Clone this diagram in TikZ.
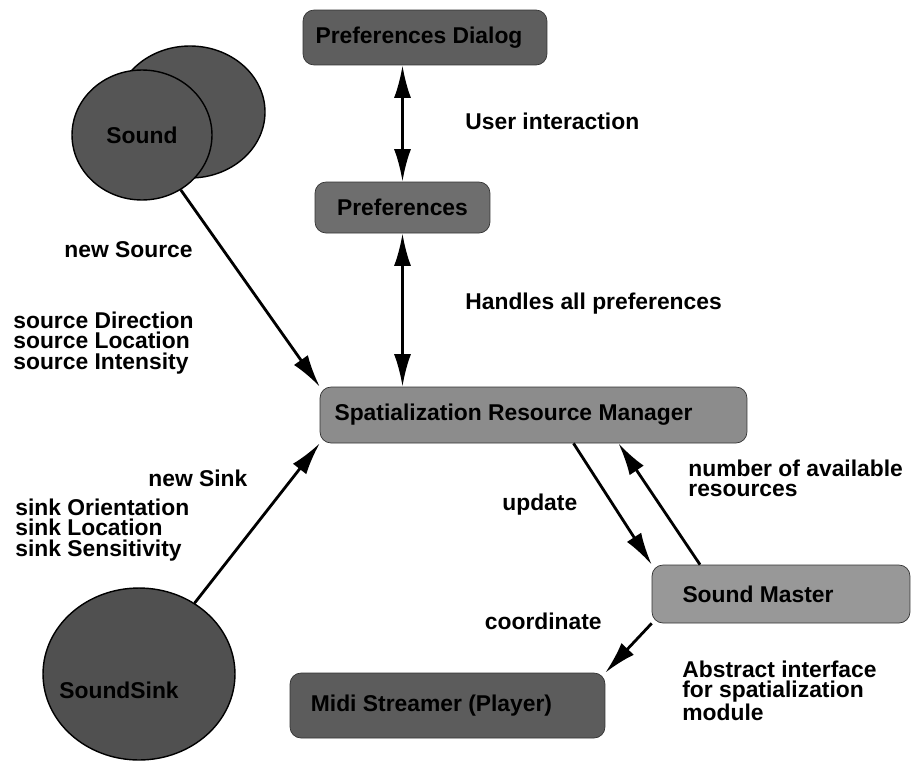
\documentclass[tikz,border=0pt]{standalone}
\usepackage{fontspec}
\setmainfont{Liberation Sans}
\usetikzlibrary{arrows.meta,shapes.geometric}
\definecolor{dlggray}{HTML}{5E5E5E}
\definecolor{prefgray}{HTML}{6E6E6E}
\definecolor{srmgray}{HTML}{8C8C8C}
\definecolor{smgray}{HTML}{989898}
\definecolor{midigray}{HTML}{5C5C5C}
\definecolor{sndgray}{HTML}{555555}
\definecolor{sinkgray}{HTML}{505050}
\tikzset{
	box/.style={draw=black!80, rounded corners=0.22cm, inner sep=0, font=\fontsize{13}{11.5}\selectfont\bfseries},
	blob/.style={ellipse, draw=black, line width=0.8pt, inner sep=0, font=\fontsize{13}{11.5}\selectfont\bfseries},
	lbl/.style={inner sep=0, align=left, font=\fontsize{13}{11.5}\selectfont\bfseries},
	arr/.style={line width=1.6pt, -{Latex[length=6.5mm,width=3.4mm]}},
	dbl/.style={line width=1.6pt, {Latex[length=6.5mm,width=3.4mm]}-{Latex[length=6.5mm,width=3.4mm]}},
}
\begin{document}
\begin{tikzpicture}[x=0.02cm, y=-0.02cm]
			\useasboundingbox (0,0) rectangle (911,764);
			\node [box, fill=dlggray, minimum width=4.88cm, minimum height=1.1cm] (dlg) at (425,37.5) {Preferences Dialog\hspace*{0.24cm}};
			\node [box, fill=prefgray, minimum width=3.5cm, minimum height=1.02cm] (pref) at (402.5,207.5) {Preferences};
			\node [box, fill=srmgray, minimum width=8.54cm, minimum height=1.12cm] (srm) at (533.5,415) {Spatialization Resource Manager\hspace*{0.8cm}};
			\node [box, fill=smgray, minimum width=5.16cm, minimum height=1.16cm] (sm) at (781,594) {Sound Master\hspace*{0.92cm}};
			\node [box, fill=midigray, minimum width=6.3cm, minimum height=1.3cm] (midi) at (447.5,705.5) {Midi Streamer (Player)\hspace*{0.64cm}};
			\fill [sndgray] (190,112) ellipse (75 and 66);
			\draw [black, line width=0.8pt] (190,112) ellipse (75 and 66);
			\node [blob, fill=sndgray, minimum width=2.8cm, minimum height=2.6cm] (snd) at (142,135) {Sound};
			\node [blob, fill=sinkgray, minimum width=3.84cm, minimum height=3.44cm] (sink) at (139,674) {};
			\node [lbl] (sinktxt) at (119,690) {SoundSink};
			\draw [dbl] (pref.north) -- (pref.north |- dlg.south);
			\draw [dbl] (pref.south) -- (pref.south |- srm.north);
			\draw [arr] (snd) -- (srm.north west);
			\draw [arr] (sink) -- (srm.south west);
			\draw [arr] ([xshift=0.8cm]srm.south) -- (sm.north west);
			\draw [arr] ([xshift=-1.62cm]sm.north) -- ([xshift=1.7cm]srm.south);
			\draw [arr] (sm.south west) -- (midi.north east);
			\node [lbl, anchor=west] (ui) at (465,121) {User interaction};
			\node [lbl, anchor=west] (hap) at (465,304) {Handles all preferences};
			\node [lbl, anchor=east] (newsrc) at (193,250) {new Source};
			\node [lbl, anchor=west] (srcprops) at (13,343) {source Direction\\source Location\\source Intensity};
			\node [lbl, anchor=west] (newsink) at (148,478) {new Sink};
			\node [lbl, anchor=west] (sinkprops) at (15,530) {sink Orientation\\sink Location\\sink Sensitivity};
			\node [lbl, anchor=west] (upd) at (502,505) {update};
			\node [lbl, anchor=west] (nres) at (688,478) {number of available\\resources};
			\node [lbl, anchor=east] (coord) at (602,621) {coordinate};
			\node [lbl, anchor=west] (absif) at (682,691) {Abstract interface\\for spatialization\\module};
		\end{tikzpicture}
\end{document}
